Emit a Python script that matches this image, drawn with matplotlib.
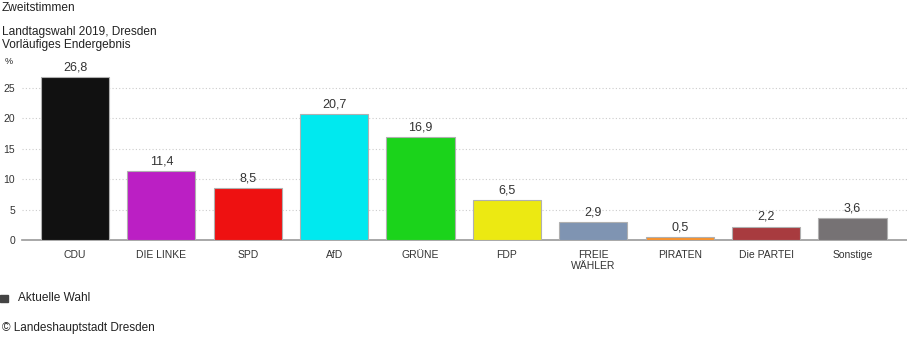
import matplotlib
matplotlib.use("Agg")
import matplotlib.pyplot as plt
from matplotlib.patches import Rectangle

plt.rcParams['font.family'] = ['Liberation Sans', 'DejaVu Sans']

categories = ["CDU", "DIE LINKE", "SPD", "AfD", "GRÜNE", "FDP", "FREIE\nWÄHLER", "PIRATEN", "Die PARTEI", "Sonstige"]
values = [26.8, 11.4, 8.5, 20.7, 16.9, 6.5, 2.9, 0.5, 2.2, 3.6]
value_labels = ["26,8", "11,4", "8,5", "20,7", "16,9", "6,5", "2,9", "0,5", "2,2", "3,6"]
colors = ["#111111", "#bb1fc4", "#ee1111", "#00e9ef", "#1bd31b", "#ece912", "#7f94b2", "#f8922c", "#a83b3f", "#767274"]
yticks = [0, 5, 10, 15, 20, 25]

W, H = 907, 338
fig = plt.figure(figsize=(W / 100, H / 100), dpi=100)

ax_left, ax_right = 22, 907
ax_bottom, ax_top = 240, 57.6
ax = fig.add_axes([ax_left / W, 1 - ax_bottom / H, (ax_right - ax_left) / W, (ax_bottom - ax_top) / H])

x = list(range(len(categories)))
ax.bar(x, values, width=0.79, color=colors, edgecolor="#b0b0b0", linewidth=0.8, zorder=3)
for xi, v, lab in zip(x, values, value_labels):
    ax.text(xi, v + 0.6, lab, ha="center", va="bottom", fontsize=9, color="#333333")

ax.set_xlim(-0.613, 9.63)
ax.set_ylim(0, 30)
ax.set_yticks(yticks)
ax.set_yticklabels([str(t) for t in yticks], fontsize=7.5, color="#333333")
ax.set_xticks(x)
ax.set_xticklabels(categories, fontsize=7.5, color="#333333", linespacing=1.1)
ax.tick_params(axis="x", length=0, pad=7)
ax.tick_params(axis="y", length=0, pad=5)
for yv in yticks[1:]:
    ax.axhline(yv, color="#cccccc", linestyle=(0, (1, 2)), linewidth=0.8, zorder=1)
for s in ["top", "right", "left"]:
    ax.spines[s].set_visible(False)
ax.spines["bottom"].set_color("#999999")
ax.spines["bottom"].set_linewidth(1.2)

def ftxt(px, py, s, size=8.6, **kw):
    fig.text(px / W, 1 - py / H, s, fontsize=size, color="#222222", va="center", ha="left", **kw)

ftxt(2, 8, "Zweitstimmen")
ftxt(2, 32, "Landtagswahl 2019, Dresden")
ftxt(2, 45, "Vorläufiges Endergebnis")
ftxt(5, 62, "%", size=6.5)
fig.patches.append(Rectangle((0, 1 - 302 / H), 8 / W, 7 / H, transform=fig.transFigure, color="#444444"))
ftxt(18, 298, "Aktuelle Wahl", size=8.6)
ftxt(2, 328, "© Landeshauptstadt Dresden", size=8.5)

fig.savefig("out.png", dpi=100)
